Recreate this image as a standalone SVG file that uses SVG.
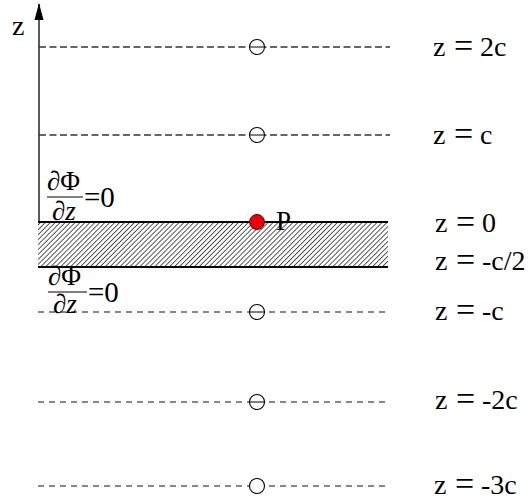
<svg xmlns="http://www.w3.org/2000/svg" width="529" height="501" viewBox="0 0 529 501">
<defs>
<pattern id="hatch" patternUnits="userSpaceOnUse" width="3.5" height="3.5" patternTransform="rotate(45)">
<line x1="0" y1="0" x2="0" y2="3.5" stroke="#111" stroke-width="1.4"/>
</pattern>
</defs>
<style>
.lbl{font-family:"Liberation Serif","Times New Roman",serif;font-size:28px;fill:#000}
.eq{font-size:34px}
.it{font-family:"Liberation Serif","Times New Roman",serif;font-style:italic;font-size:27px}
.up{font-family:"Liberation Serif","Times New Roman",serif;font-size:27px}
.zr{font-family:"Liberation Serif","Times New Roman",serif;font-size:29px}
.dashA{stroke:#333;stroke-width:1.4;stroke-dasharray:7 3.5;fill:none}
.dashB{stroke:#111;stroke-width:1.1;stroke-dasharray:6 5;fill:none}
.src{fill:#fff;stroke:#000;stroke-width:1.1}
</style>
<g id="connectors">
<line x1="39" y1="222" x2="39" y2="4" stroke="#000" stroke-width="1.3"/>
<path d="M34.5,20 L39,3 L43.5,20 Z" fill="#000"/>
<line class="dashA" x1="39" y1="47" x2="390" y2="47"/>
<line class="dashA" x1="39" y1="135" x2="390" y2="135"/>
<line class="dashB" x1="38" y1="312" x2="390" y2="312"/>
<line class="dashB" x1="38" y1="402" x2="390" y2="402"/>
<line class="dashB" x1="38" y1="486" x2="390" y2="486"/>
</g>
<g id="slab">
<rect x="38" y="222" width="350" height="45" fill="url(#hatch)"/>
<line x1="38" y1="222" x2="388" y2="222" stroke="#000" stroke-width="2"/>
<line x1="38" y1="267" x2="388" y2="267" stroke="#000" stroke-width="2"/>
</g>
<g id="img-2c"><circle class="src" cx="257" cy="47" r="7.5"/><line x1="249.5" y1="47" x2="264.5" y2="47" stroke="#000" stroke-width="1"/></g>
<g id="img-c"><circle class="src" cx="257" cy="135" r="7.5"/><line x1="249.5" y1="135" x2="264.5" y2="135" stroke="#000" stroke-width="1"/></g>
<g id="img-mc"><circle class="src" cx="257" cy="312" r="7.5"/><line x1="249.5" y1="312" x2="264.5" y2="312" stroke="#000" stroke-width="1"/></g>
<g id="img-m2c"><circle class="src" cx="257" cy="402" r="7.5"/><line x1="249.5" y1="402" x2="264.5" y2="402" stroke="#000" stroke-width="1"/></g>
<g id="img-m3c"><circle class="src" cx="257" cy="486" r="7.5"/></g>
<g id="P">
<circle cx="257" cy="222" r="7.5" fill="#e00" stroke="#600" stroke-width="1"/>
<text class="lbl" x="276" y="230" style="font-size:27px">P</text>
</g>
<g id="axis-label"><text class="lbl" x="12" y="35" style="font-size:28px">z</text></g>
<g id="bc-top">
<text class="up" x="47" y="190"><tspan class="it">∂</tspan>Φ</text>
<line x1="47" y1="197" x2="83" y2="197" stroke="#000" stroke-width="1"/>
<text class="it" x="52" y="220">∂z</text>
<text class="zr" x="84" y="207">=0</text>
</g>
<g id="bc-bot">
<text class="up" x="48" y="285"><tspan class="it">∂</tspan>Φ</text>
<line x1="48" y1="292" x2="87" y2="292" stroke="#000" stroke-width="1"/>
<text class="it" x="53" y="313">∂z</text>
<text class="zr" x="88" y="302">=0</text>
</g>
<g id="labels">
<text class="lbl" y="56"><tspan x="433">z</tspan><tspan class="eq" x="454" y="57">=</tspan><tspan x="480" y="56">2c</tspan></text>
<text class="lbl" y="144"><tspan x="433">z</tspan><tspan class="eq" x="454" y="145">=</tspan><tspan x="480" y="144">c</tspan></text>
<text class="lbl" y="232"><tspan x="435">z</tspan><tspan class="eq" x="456" y="233">=</tspan><tspan x="482" y="232">0</tspan></text>
<text class="lbl" y="270"><tspan x="435">z</tspan><tspan class="eq" x="456" y="271">=</tspan><tspan x="482" y="270">-c/2</tspan></text>
<text class="lbl" y="320"><tspan x="435">z</tspan><tspan class="eq" x="456" y="321">=</tspan><tspan x="482" y="320">-c</tspan></text>
<text class="lbl" y="409"><tspan x="435">z</tspan><tspan class="eq" x="456" y="410">=</tspan><tspan x="482" y="409">-2c</tspan></text>
<text class="lbl" y="494"><tspan x="434">z</tspan><tspan class="eq" x="455" y="495">=</tspan><tspan x="481" y="494">-3c</tspan></text>
</g>
</svg>
